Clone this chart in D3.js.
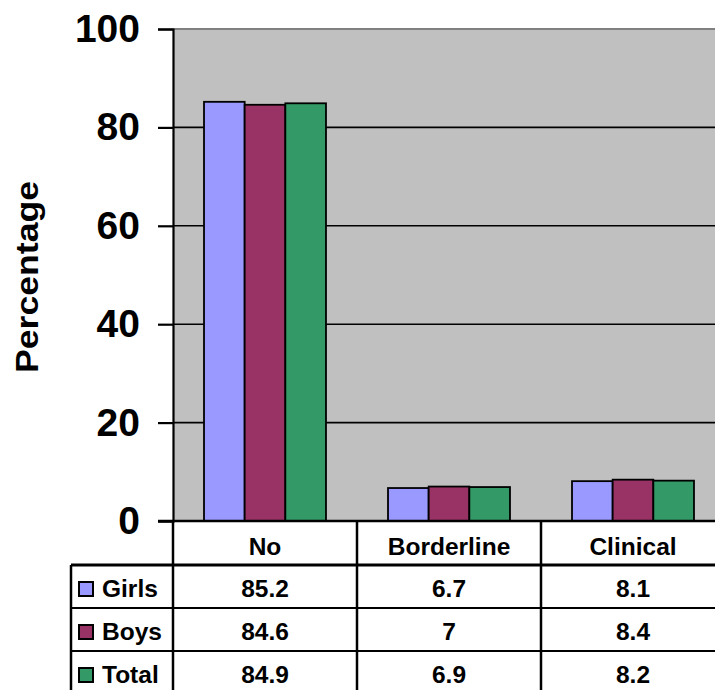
<!DOCTYPE html>
<html>
<head>
<meta charset="utf-8">
<script src="https://cdn.jsdelivr.net/npm/d3@7"></script>
<style>
  html, body { margin: 0; padding: 0; background: #fff; }
  svg { display: block; }
  text { font-family: "Liberation Sans", Arial, sans-serif; font-weight: bold; fill: #000; }
</style>
</head>
<body>
<svg id="chart" width="715" height="690"></svg>
<script>
// Emotional/behavioural problem bands by group (percent)
const categories = ["No", "Borderline", "Clinical"];
const seriesNames = ["Girls", "Boys", "Total"];
const girls = [85.2, 6.7, 8.1];
const boys = [84.6, 7, 8.4];
const total = [84.9, 6.9, 8.2];
const yTicks = [0, 20, 40, 60, 80, 100];
const seriesColors = ["#9999FF", "#993366", "#339966"];

const seriesValues = [girls, boys, total];
const rows = seriesNames.map((name, i) => ({ name, values: seriesValues[i], color: seriesColors[i] }));

const svg = d3.select("#chart");

// Plot frame
const plotLeft = 173, plotRight = 725, plotTop = 29, plotBottom = 521;

const y = d3.scaleLinear().domain([0, 100]).range([plotBottom, plotTop]);
const x0 = d3.scaleBand().domain(categories).range([plotLeft, plotRight])
  .paddingInner(0.337).paddingOuter(0.1685);
const x1 = d3.scaleBand().domain(seriesNames).range([0, x0.bandwidth()]).padding(0);

// Grey plot background
svg.append("rect")
  .attr("x", plotLeft).attr("y", plotTop)
  .attr("width", plotRight - plotLeft).attr("height", plotBottom - plotTop)
  .attr("fill", "#C0C0C0");

// Horizontal gridlines
svg.append("g").selectAll("line")
  .data(yTicks.filter(t => t > 0 && t < 100))
  .join("line")
  .attr("x1", plotLeft).attr("x2", plotRight)
  .attr("y1", d => y(d)).attr("y2", d => y(d))
  .attr("stroke", "#000").attr("stroke-width", 1.6);

// Top border of the plot area
svg.append("line")
  .attr("x1", plotLeft).attr("x2", plotRight)
  .attr("y1", y(100)).attr("y2", y(100))
  .attr("stroke", "#808080").attr("stroke-width", 2.2);

// Bars
const groups = svg.append("g").selectAll("g")
  .data(categories)
  .join("g")
  .attr("transform", d => `translate(${x0(d)},0)`);

groups.selectAll("rect")
  .data((c, ci) => rows.map(r => ({ name: r.name, value: r.values[ci], color: r.color })))
  .join("rect")
  .attr("x", d => x1(d.name))
  .attr("y", d => y(d.value))
  .attr("width", x1.bandwidth())
  .attr("height", d => y(0) - y(d.value))
  .attr("fill", d => d.color)
  .attr("stroke", "#000")
  .attr("stroke-width", 1.8);

// Y axis
const yAxis = d3.axisLeft(y).tickValues(yTicks).tickSize(15).tickPadding(18);
const yg = svg.append("g").attr("transform", `translate(${plotLeft},0)`).call(yAxis);
yg.select(".domain").attr("stroke", "#000").attr("stroke-width", 2.2);
yg.selectAll(".tick line").attr("stroke", "#000").attr("stroke-width", 2.2);
yg.selectAll(".tick text")
  .attr("font-size", 39)
  .attr("font-family", "'Liberation Sans', Arial, sans-serif")
  .attr("font-weight", "bold")
  .attr("fill", "#000");

// Baseline at zero
svg.append("line")
  .attr("x1", plotLeft - 15).attr("x2", plotRight)
  .attr("y1", y(0)).attr("y2", y(0))
  .attr("stroke", "#000").attr("stroke-width", 2.5);

// Y-axis title
svg.append("text")
  .attr("transform", "translate(38,277) rotate(-90)")
  .attr("text-anchor", "middle")
  .attr("font-size", 32)
  .attr("textLength", 192)
  .attr("lengthAdjust", "spacingAndGlyphs")
  .text("Percentage");

// Data table under the chart
const headerBottom = 565;
const rowH = 43;
const tableBottom = headerBottom + rowH * rows.length;
const legendLeft = 71;
const tableFont = 24.5;
const table = svg.append("g");

// Column dividers at category boundaries
const colEdges = categories.map(c => x0(c) - x0.step() * x0.paddingInner() / 2);
table.selectAll("line.col")
  .data(colEdges)
  .join("line")
  .attr("class", "col")
  .attr("x1", d => d).attr("x2", d => d)
  .attr("y1", plotBottom).attr("y2", tableBottom)
  .attr("stroke", "#000").attr("stroke-width", 2.5);

// Left edge of legend column
table.append("line")
  .attr("x1", legendLeft).attr("x2", legendLeft)
  .attr("y1", headerBottom).attr("y2", tableBottom)
  .attr("stroke", "#000").attr("stroke-width", 2.5);

// Header bottom rule
table.append("line")
  .attr("x1", legendLeft).attr("x2", plotRight)
  .attr("y1", headerBottom).attr("y2", headerBottom)
  .attr("stroke", "#000").attr("stroke-width", 3);

// Row rules
table.selectAll("line.row")
  .data(d3.range(1, rows.length + 1))
  .join("line")
  .attr("class", "row")
  .attr("x1", legendLeft).attr("x2", plotRight)
  .attr("y1", i => headerBottom + i * rowH).attr("y2", i => headerBottom + i * rowH)
  .attr("stroke", "#000").attr("stroke-width", 2.2);

// Header labels
table.selectAll("text.head")
  .data(categories)
  .join("text")
  .attr("class", "head")
  .attr("x", d => x0(d) + x0.bandwidth() / 2)
  .attr("y", plotBottom + 34)
  .attr("text-anchor", "middle")
  .attr("font-size", tableFont)
  .text(d => d);

// Value rows with legend keys
const rowG = table.selectAll("g.datarow")
  .data(rows)
  .join("g")
  .attr("class", "datarow")
  .attr("transform", (d, i) => `translate(0,${headerBottom + i * rowH})`);

rowG.append("rect")
  .attr("x", 79).attr("y", 17)
  .attr("width", 14).attr("height", 14)
  .attr("fill", d => d.color)
  .attr("stroke", "#000").attr("stroke-width", 2);

rowG.append("text")
  .attr("x", 102).attr("y", 32)
  .attr("font-size", tableFont)
  .text(d => d.name);

rowG.selectAll("text.val")
  .data(d => d.values.map((v, ci) => ({ v, c: categories[ci] })))
  .join("text")
  .attr("class", "val")
  .attr("x", d => x0(d.c) + x0.bandwidth() / 2)
  .attr("y", 32)
  .attr("text-anchor", "middle")
  .attr("font-size", tableFont)
  .text(d => d.v);
</script>
</body>
</html>
